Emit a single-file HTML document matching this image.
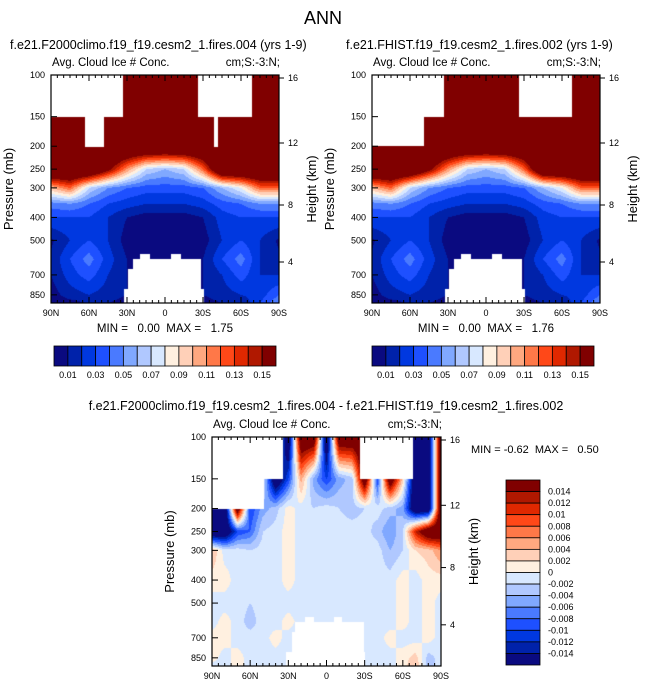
<!DOCTYPE html>
<html><head><meta charset="utf-8">
<style>
body{margin:0;background:#fff;width:646px;height:691px;position:relative;overflow:hidden;font-family:"Liberation Sans",Arial,sans-serif;}
canvas{position:absolute;}
svg{position:absolute;left:0;top:0;}
text{white-space:pre;}
</style></head>
<body>
<canvas id="c1" width="228" height="228" style="left:51px;top:75px"></canvas>
<canvas id="c2" width="228" height="228" style="left:372px;top:75px"></canvas>
<canvas id="c3" width="229" height="229" style="left:212px;top:437px"></canvas>
<svg id="ov" width="646" height="691"></svg>
<script>
// ---- data ----
const levels = [100,150,200,250,300,350,400,500,600,700,850,925];
const lats13 = [90,75,60,45,30,15,0,-15,-30,-45,-60,-75,-90];
const fieldA = [
[0.2,0.2,0.2,0.2,0.2,0.2,0.2,0.2,0.2,0.2,0.2,0.2,0.2],
[0.2,0.2,0.2,0.2,0.2,0.2,0.2,0.2,0.2,0.2,0.2,0.2,0.2],
[0.2,0.2,0.2,0.2,0.2,0.2,0.2,0.2,0.2,0.2,0.2,0.2,0.2],
[0.2,0.2,0.2,0.16,0.11,0.07,0.06,0.07,0.12,0.2,0.2,0.2,0.2],
[0.1,0.12,0.07,0.05,0.04,0.035,0.035,0.035,0.04,0.06,0.08,0.12,0.12],
[0.045,0.05,0.04,0.03,0.025,0.02,0.02,0.02,0.025,0.035,0.04,0.05,0.05],
[0.03,0.03,0.03,0.02,0.01,0.005,0.005,0.005,0.01,0.025,0.03,0.03,0.03],
[0.008,0.02,0.03,0.02,0.005,0.003,0.003,0.003,0.005,0.02,0.03,0.02,0.008],
[0.012,0.03,0.045,0.025,0.01,0.005,0.005,0.005,0.01,0.03,0.045,0.02,0.012],
[0.01,0.025,0.035,0.02,0.01,0.005,0.005,0.005,0.01,0.02,0.035,0.02,0.02],
[0.005,0.015,0.02,0.015,0.01,0.005,0.005,0.005,0.01,0.015,0.02,0.025,0.04],
[0.005,0.005,0.01,0.01,0.005,0.005,0.005,0.005,0.005,0.01,0.01,0.03,0.05]];
const fieldB = fieldA.map(r=>r.slice());
const maskA = [[90,33,100,150],[63,48,150,200],[-26,-69,100,150],[-39,-42,150,200],
  [32,-31,800,930],[29,-28,660,930],[25,-29,600,930],[20,12,570,600],[-5,-13,570,600]];
const maskB = [[90,49,100,200],[49,33,100,150],[-26,-68,100,150],
  [32,-31,800,930],[29,-28,660,930],[25,-29,600,930],[20,12,570,600],[-5,-13,570,600]];
const levelsD = [100,150,200,250,300,400,500,600,700,850,925];
const lats19 = [90,80,70,60,50,40,30,20,10,0,-10,-20,-30,-40,-50,-60,-70,-80,-90];
const fieldD = [
[0,0,0,0,0,0,-0.02,0.02,0.02,-0.02,0.02,0.02,0.02,0,0,0,-0.02,-0.02,0.02],
[0,0,0,0,0,-0.02,-0.01,0.005,-0.005,-0.01,-0.005,-0.003,0.02,-0.01,0.02,0.003,-0.02,-0.02,0.02],
[-0.02,-0.02,0.02,-0.01,-0.005,-0.003,0.001,-0.001,-0.002,-0.001,-0.002,-0.003,-0.002,-0.001,-0.003,-0.005,-0.02,-0.02,0.02],
[-0.02,-0.02,-0.01,-0.008,-0.002,-0.001,0.001,-0.001,-0.001,-0.001,-0.001,-0.001,-0.001,-0.003,-0.006,-0.002,0.012,0.02,0.02],
[0.004,-0.001,-0.001,-0.002,-0.001,-0.001,0.001,-0.001,-0.001,-0.001,-0.001,-0.001,-0.001,-0.001,-0.004,-0.002,0.002,0.003,0.006],
[0.001,0.001,-0.001,-0.001,-0.001,-0.001,0.001,-0.001,-0.001,-0.001,-0.001,-0.001,-0.001,-0.001,-0.001,0.001,-0.001,0.001,0.001],
[-0.001,-0.001,-0.001,-0.002,-0.001,-0.001,-0.001,-0.001,-0.001,-0.001,-0.001,-0.001,-0.001,-0.001,-0.001,0.001,-0.001,0.001,-0.001],
[-0.001,0.001,-0.001,-0.003,-0.001,-0.001,0.001,-0.001,-0.001,-0.001,-0.001,-0.001,-0.001,-0.001,-0.001,0.001,-0.001,0.001,-0.001],
[0.001,0.001,-0.001,-0.001,-0.001,0.001,-0.001,-0.001,-0.001,-0.001,-0.001,-0.001,-0.001,-0.001,0.001,-0.001,-0.001,0.001,-0.001],
[0.001,-0.001,0.001,-0.001,-0.001,-0.001,-0.001,-0.001,-0.001,-0.001,-0.001,-0.001,-0.001,-0.001,-0.001,0.001,0.003,-0.003,-0.001],
[-0.001,-0.001,0.001,-0.001,-0.001,-0.001,-0.001,-0.001,-0.001,-0.001,-0.001,-0.001,-0.001,-0.001,-0.001,0.001,0.004,-0.003,-0.001]];
const maskD = [[90,49,100,200],[49,34,100,150],[-26,-68,100,150],
  [32,-30,800,930],[27,-29,660,930],[25,-29,600,930],[17,10,570,600],[-6,-12,570,600]];
const colors = ["#0a0a80","#0022aa","#0038e0","#1e50ff","#4a7aff","#80a8ff","#b0c8ff","#d8e8ff","#fff0e0","#ffd0b8","#ffa880","#ff7848","#ff4818","#e02800","#b01800","#800000"];
const boundsA = [0.01,0.02,0.03,0.04,0.05,0.06,0.07,0.08,0.09,0.10,0.11,0.12,0.13,0.14,0.15];
const boundsD = [-0.014,-0.012,-0.01,-0.008,-0.006,-0.004,-0.002,0,0.002,0.004,0.006,0.008,0.01,0.012,0.014];
const cbLabelsA = ["0.01","0.03","0.05","0.07","0.09","0.11","0.13","0.15"];
const cbLabelsD = ["-0.014","-0.012","-0.01","-0.008","-0.006","-0.004","-0.002","0","0.002","0.004","0.006","0.008","0.01","0.012","0.014"];
const xTicks = ["90N","60N","30N","0","30S","60S","90S"];
const pTicks = [100,150,200,250,300,400,500,700,850];
const hTicks = [16,12,8,4];

// ---- helpers ----
const PB = 920;
function yOfP(p,y0,H){return y0+Math.log(p/100)/Math.log(PB/100)*H;}
function pOfY(y,H){return 100*Math.exp(y/H*Math.log(PB/100));}
function xOfLat(lat,x0,W){return x0+(90-lat)/180*W;}
function interp(field,lats,levs,lat,p){
  let i=0; while(i<lats.length-2 && lat<lats[i+1]) i++;
  let j=0; while(j<levs.length-2 && p>levs[j+1]) j++;
  let tx=(lats[i]-lat)/(lats[i]-lats[i+1]); tx=Math.max(0,Math.min(1,tx));
  let ty=(Math.log(p)-Math.log(levs[j]))/(Math.log(levs[j+1])-Math.log(levs[j])); ty=Math.max(0,Math.min(1,ty));
  const a=field[j][i],b=field[j][i+1],c=field[j+1][i],d=field[j+1][i+1];
  return a*(1-tx)*(1-ty)+b*tx*(1-ty)+c*(1-tx)*ty+d*tx*ty;
}
function colorOf(v,bounds){let k=0;while(k<bounds.length&&v>=bounds[k])k++;return colors[k];}
function drawField(id,field,lats,levs,bounds,mask){
  const cv=document.getElementById(id),ctx=cv.getContext('2d');
  const W=cv.width,H=cv.height;
  for(let y=0;y<H;y+=1){const p=pOfY(y+0.5,H);
    for(let x=0;x<W;x+=1){const lat=90-(x+0.5)/W*180;
      ctx.fillStyle=colorOf(interp(field,lats,levs,lat,p),bounds);ctx.fillRect(x,y,1,1);}}
  ctx.fillStyle="#fff";
  for(const m of mask){const xa=xOfLat(m[0],0,W),xb=xOfLat(m[1],0,W),ya=yOfP(m[2],0,H),yb=yOfP(m[3],0,H);
    ctx.fillRect(Math.round(xa),Math.round(ya),Math.round(xb-xa),Math.round(yb-ya));}
}
drawField('c1',fieldA,lats13,levels,boundsA,maskA);
drawField('c2',fieldB,lats13,levels,boundsA,maskB);
drawField('c3',fieldD,lats19,levelsD,boundsD,maskD);

const NS="http://www.w3.org/2000/svg",ov=document.getElementById('ov');
function el(tag,attrs,txt){const e=document.createElementNS(NS,tag);for(const k in attrs)e.setAttribute(k,attrs[k]);if(txt!==undefined)e.textContent=txt;ov.appendChild(e);return e;}
function txt(x,y,s,size,anchor,name,extra){const e=el('text',Object.assign({x:x,y:y,'font-size':size,'text-anchor':anchor||'start','font-family':'Liberation Sans, Arial, sans-serif'},extra||{}),s);
  
  return e;}
const hY={16:78,12:143,8:205,4:262};
function axes(x0,y0,W,H,pfx,showLeft){
  const r=el('rect',{x:x0,y:y0,width:W,height:H,fill:'none',stroke:'#000','stroke-width':1.2});
  
  
  for(let lat=90;lat>=-90;lat-=5){const x=xOfLat(lat,x0,W);const len=lat%30===0?6:3;
    el('line',{x1:x,y1:y0,x2:x,y2:y0+len,stroke:'#000'});el('line',{x1:x,y1:y0+H,x2:x,y2:y0+H-len,stroke:'#000'});}
  xTicks.forEach((s,i)=>txt(x0+i*W/6,y0+H+13,s,9,'middle',pfx+'-x-tick-label'));
  pTicks.forEach(p=>{const y=yOfP(p,y0,H);el('line',{x1:x0,y1:y,x2:x0+6,y2:y,stroke:'#000'});
    if(showLeft)txt(x0-6,y+3,String(p),9,'end',pfx+'-y-tick-label');});
  hTicks.forEach(h=>{const y=y0+(hY[h]-75)*H/228;el('line',{x1:x0+W,y1:y,x2:x0+W+5,y2:y,stroke:'#000'});
    txt(x0+W+9,y+3,String(h),9,'start',pfx+'-height-tick-label');});
  txt(x0+1,y0-9,"Avg. Cloud Ice # Conc.",11.5,'start',pfx+'-subtitle');
  txt(x0+W+1,y0-9,"cm;S:-3:N;",11.5,'end',pfx+'-units');
  txt(x0-38,y0+H/2,"Pressure (mb)",13,'middle',pfx+'-y-axis-title',{transform:`rotate(-90 ${x0-38} ${y0+H/2})`});
  txt(x0+W+37,y0+H/2,"Height (km)",13,'middle',pfx+'-y2-axis-title',{transform:`rotate(-90 ${x0+W+37} ${y0+H/2})`});
}
axes(51,75,228,228,'left',true);
axes(372,75,228,228,'right',true);
axes(212,437,229,229,'diff',true);

txt(323,24,"ANN",18,'middle','main-title');
txt(10,49,"f.e21.F2000climo.f19_f19.cesm2_1.fires.004 (yrs 1-9)",12.5,'start','left-title');
txt(346,49,"f.e21.FHIST.f19_f19.cesm2_1.fires.002 (yrs 1-9)",12.5,'start','right-title');
txt(326,410,"f.e21.F2000climo.f19_f19.cesm2_1.fires.004 - f.e21.FHIST.f19_f19.cesm2_1.fires.002",12.5,'middle','diff-title');
txt(165,332,"MIN =   0.00  MAX =   1.75",11.5,'middle','left-minmax');
txt(486,332,"MIN =   0.00  MAX =   1.76",11.5,'middle','right-minmax');
txt(471,453,"MIN = -0.62  MAX =   0.50",11,'start','diff-minmax');

function hbar(x0,y0,W,H,pfx){const bw=W/16;
  colors.forEach((c,i)=>{const r=el('rect',{x:x0+i*bw,y:y0,width:bw,height:H,fill:c,stroke:'#000','stroke-width':0.8});
    
    });
  cbLabelsA.forEach((s,i)=>txt(x0+(1+2*i)*bw,y0+H+12,s,9,'middle',pfx+'-colorbar-label'));}
hbar(54,346,222,20,'left');
hbar(372,346,222,20,'right');
(function(){const x0=506,y0=480,W=34,H=185,bh=H/16;
  colors.slice().reverse().forEach((c,i)=>{const r=el('rect',{x:x0,y:y0+i*bh,width:W,height:bh,fill:c,stroke:'#000','stroke-width':0.8});
    
    });
  cbLabelsD.slice().reverse().forEach((s,i)=>txt(x0+W+8,y0+(i+1)*bh+3,s,9,'start','diff-colorbar-label'));})();
</script>
</body></html>
